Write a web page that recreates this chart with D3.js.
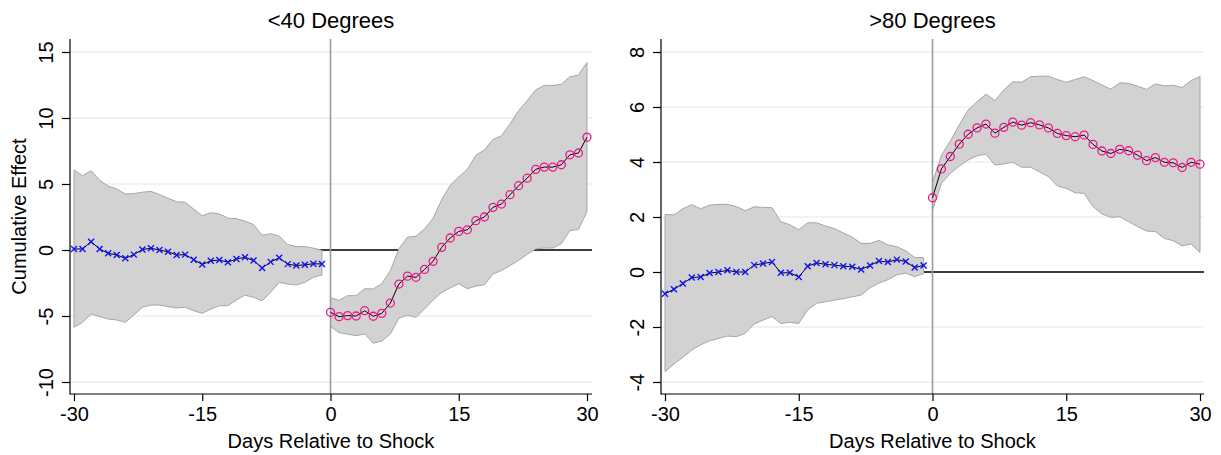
<!DOCTYPE html>
<html>
<head>
<meta charset="utf-8">
<script src="https://cdn.jsdelivr.net/npm/d3@7"></script>
<style>
  body { margin: 0; background: #fff; }
  text { font-family: "Liberation Sans", Arial, sans-serif; fill: #000; }
</style>
</head>
<body>
<div id="chart"></div>
<script>
// days relative to shock
const preDays = [-30, -29, -28, -27, -26, -25, -24, -23, -22, -21, -20, -19, -18, -17, -16,
  -15, -14, -13, -12, -11, -10, -9, -8, -7, -6, -5, -4, -3, -2, -1];
const postDays = [0, 1, 2, 3, 4, 5, 6, 7, 8, 9, 10, 11, 12, 13, 14, 15, 16, 17, 18, 19, 20,
  21, 22, 23, 24, 25, 26, 27, 28, 29, 30];
const xTicks = [-30, -15, 0, 15, 30];

// <40 degrees
const coldYTicks = [-10, -5, 0, 5, 10, 15];
const coldPre = [0.08, 0.08, 0.63, 0.08, -0.25, -0.37, -0.63, -0.35, 0.04, 0.13, 0, -0.13, -0.38, -0.35, -0.73,
  -1.1, -0.82, -0.76, -0.92, -0.68, -0.55, -0.8, -1.36, -0.9, -0.59, -1.07, -1.18, -1.12, -1.04, -1.06];
const coldPreHi = [6.06, 5.63, 6.01, 5.28, 4.84, 4.62, 4.24, 4.27, 4.38, 4.44, 4.2, 3.92, 3.66, 3.63, 3.1,
  2.6, 2.82, 2.73, 2.41, 2.38, 2.18, 1.93, 1.12, 1.24, 1.05, 0.42, 0.25, 0.26, 0.14, -0.03];
const coldPreLo = [-5.86, -5.48, -4.85, -5.05, -5.23, -5.3, -5.48, -4.92, -4.34, -4.17, -4.17, -4.29, -4.39, -4.34, -4.6,
  -4.8, -4.47, -4.22, -4.22, -3.79, -3.41, -3.59, -3.84, -3.21, -2.45, -2.58, -2.65, -2.45, -2.07, -1.89];
const coldPost = [-4.72, -5.05, -4.97, -5.0, -4.6, -5.02, -4.8, -4.02, -2.58, -1.98, -2.07, -1.47, -0.86, 0.2, 0.91,
  1.41, 1.53, 2.22, 2.5, 3.23, 3.48, 4.19, 4.87, 5.44, 6.11, 6.28, 6.28, 6.46, 7.21, 7.35, 8.54];
const coldPostHi = [-3.62, -3.81, -3.46, -3.46, -2.93, -2.95, -2.55, -1.57, 0.1, 0.96, 1.05, 1.59, 2.41, 3.8, 4.9,
  5.54, 6.1, 7.17, 7.58, 8.37, 8.66, 9.55, 10.56, 11.31, 12.13, 12.47, 12.47, 12.55, 13.13, 13.25, 14.21];
const coldPostLo = [-5.8, -6.26, -6.38, -6.49, -6.36, -7.06, -6.9, -6.36, -5.17, -4.94, -5.1, -4.47, -3.79, -3.21, -2.87,
  -2.56, -2.93, -2.74, -2.64, -1.82, -1.55, -1.17, -0.79, -0.33, 0.08, 0.15, 0.15, 0.48, 1.47, 1.56, 2.92];

// >80 degrees
const hotYTicks = [-4, -2, 0, 2, 4, 6, 8];
const hotPre = [-0.79, -0.63, -0.42, -0.2, -0.18, -0.04, 0, 0.06, 0, 0, 0.25, 0.31, 0.36, -0.03, -0.03,
  -0.18, 0.21, 0.33, 0.28, 0.25, 0.21, 0.19, 0.09, 0.24, 0.4, 0.36, 0.45, 0.38, 0.16, 0.24];
const hotPreHi = [2.09, 2.08, 2.3, 2.45, 2.3, 2.43, 2.46, 2.46, 2.38, 2.23, 2.37, 2.35, 2.34, 1.83, 1.72,
  1.54, 1.79, 1.79, 1.67, 1.58, 1.42, 1.27, 1.04, 1.04, 1.15, 0.99, 0.92, 0.77, 0.53, 0.52];
const hotPreLo = [-3.62, -3.35, -3.1, -2.84, -2.65, -2.5, -2.42, -2.33, -2.35, -2.23, -1.89, -1.75, -1.62, -1.87, -1.83,
  -1.87, -1.38, -1.14, -1.08, -1.02, -0.97, -0.9, -0.84, -0.57, -0.4, -0.28, -0.1, -0.04, -0.17, -0.05];
const hotPost = [2.7, 3.75, 4.2, 4.65, 5.01, 5.24, 5.38, 5.05, 5.26, 5.45, 5.34, 5.43, 5.35, 5.24, 5.04,
  4.96, 4.92, 4.98, 4.64, 4.4, 4.31, 4.46, 4.41, 4.25, 4.05, 4.16, 3.99, 3.97, 3.8, 3.99, 3.92];
const hotPostHi = [3.25, 4.25, 4.76, 5.35, 5.89, 6.19, 6.47, 6.23, 6.62, 6.92, 6.9, 7.1, 7.12, 7.12, 7.0,
  6.9, 7.0, 7.1, 6.96, 6.8, 6.65, 6.88, 6.86, 6.76, 6.64, 6.84, 6.77, 6.79, 6.71, 6.96, 7.11];
const hotPostLo = [2.25, 3.22, 3.59, 3.85, 4.07, 4.23, 4.28, 3.89, 3.93, 3.99, 3.81, 3.81, 3.64, 3.47, 3.13,
  3.04, 2.88, 2.86, 2.38, 2.11, 1.99, 2.01, 1.83, 1.65, 1.49, 1.47, 1.22, 1.14, 0.95, 1.02, 0.71];

// style configs
const width = 1221;
const height = 455;
const plotTop = 39;
const plotBottom = 394;
const colors = { band: '#d2d2d2', bandEdge: '#a6a6a6', grid: '#e9f1f2', vline: '#9c9c9c', pre: '#1010ff', post: '#f0148c' };

const svg = d3.select('#chart').append('svg')
  .attr('width', width)
  .attr('height', height)
  .style('display', 'block');

svg.append('rect').attr('width', width).attr('height', height).attr('fill', '#fff');

const zip = (days, vals, hi, lo) => days.map((d, i) => ({ day: d, v: vals[i], hi: hi[i], lo: lo[i] }));

const drawPanel = p => {
  const g = svg.append('g');
  const x = d3.scaleLinear().domain([-30, 30]).range(p.xRange);
  const y = d3.scaleLinear().domain(p.yDomain).range([382, 52]);

  // gridlines
  g.append('g').selectAll('line')
    .data(p.yTicks)
    .enter().append('line')
    .attr('x1', p.axisX + 1).attr('x2', p.right)
    .attr('y1', d => y(d)).attr('y2', d => y(d))
    .attr('stroke', colors.grid).attr('stroke-width', 1.5);

  // zero line
  g.append('line')
    .attr('x1', x(-30)).attr('x2', p.right)
    .attr('y1', y(0)).attr('y2', y(0))
    .attr('stroke', '#000').attr('stroke-width', 1.6);

  const pre = zip(preDays, p.pre, p.preHi, p.preLo);
  const post = zip(postDays, p.post, p.postHi, p.postLo);

  const area = d3.area().x(d => x(d.day)).y0(d => y(d.lo)).y1(d => y(d.hi));
  [pre, post].forEach(s => {
    g.append('path')
      .datum(s)
      .attr('d', area)
      .attr('fill', colors.band)
      .attr('stroke', colors.bandEdge)
      .attr('stroke-width', 1);
  });

  // shock line
  g.append('line')
    .attr('x1', x(0)).attr('x2', x(0))
    .attr('y1', plotTop).attr('y2', plotBottom)
    .attr('stroke', colors.vline).attr('stroke-width', 1.6);

  const line = d3.line().x(d => x(d.day)).y(d => y(d.v));
  [pre, post].forEach(s => {
    g.append('path')
      .datum(s)
      .attr('d', line)
      .attr('fill', 'none')
      .attr('stroke', '#000')
      .attr('stroke-width', 1);
  });

  // pre markers (x)
  const s = 3;
  g.append('g').selectAll('path')
    .data(pre)
    .enter().append('path')
    .attr('d', d => {
      const cx = x(d.day), cy = y(d.v);
      return `M${cx - s},${cy - s}L${cx + s},${cy + s}M${cx - s},${cy + s}L${cx + s},${cy - s}`;
    })
    .attr('stroke', colors.pre)
    .attr('stroke-width', 1.4);

  // post markers (hollow circles)
  g.append('g').selectAll('circle')
    .data(post)
    .enter().append('circle')
    .attr('cx', d => x(d.day))
    .attr('cy', d => y(d.v))
    .attr('r', 4)
    .attr('fill', 'none')
    .attr('stroke', colors.post)
    .attr('stroke-width', 1.3);

  // axes
  g.append('line')
    .attr('x1', p.axisX).attr('x2', p.axisX)
    .attr('y1', plotTop).attr('y2', plotBottom + 0.5)
    .attr('stroke', '#000').attr('stroke-width', 1.2);
  g.append('line')
    .attr('x1', p.axisX).attr('x2', p.right)
    .attr('y1', plotBottom).attr('y2', plotBottom)
    .attr('stroke', '#000').attr('stroke-width', 1.2);

  const yAxis = g.append('g')
    .attr('transform', `translate(${p.axisX},0)`)
    .call(d3.axisLeft(y).tickValues(p.yTicks).tickSize(8).tickSizeOuter(0));
  yAxis.select('.domain').remove();
  yAxis.selectAll('line').attr('stroke', '#000').attr('stroke-width', 1.2);
  yAxis.selectAll('text')
    .attr('x', null).attr('dy', null)
    .attr('transform', 'translate(-17,0) rotate(-90)')
    .attr('text-anchor', 'middle')
    .style('font-size', '20px')
    .style('font-family', '"Liberation Sans", Arial, sans-serif')
    .text(d => d < 0 ? '-' + Math.abs(d) : d);

  const xAxis = g.append('g')
    .attr('transform', `translate(0,${plotBottom})`)
    .call(d3.axisBottom(x).tickValues(xTicks).tickSize(7).tickSizeOuter(0));
  xAxis.select('.domain').remove();
  xAxis.selectAll('line').attr('stroke', '#000').attr('stroke-width', 1.2);
  xAxis.selectAll('text')
    .attr('y', 27).attr('dy', null)
    .style('font-size', '20px')
    .style('font-family', '"Liberation Sans", Arial, sans-serif')
    .text(d => d < 0 ? '-' + Math.abs(d) : d);

  const cx = (p.axisX + p.right) / 2;
  g.append('text')
    .attr('x', cx).attr('y', 28)
    .attr('text-anchor', 'middle')
    .style('font-size', '22px')
    .text(p.title);

  g.append('text')
    .attr('x', cx).attr('y', 448)
    .attr('text-anchor', 'middle')
    .style('font-size', '20px')
    .text('Days Relative to Shock');

  if (p.yTitle) {
    g.append('text')
      .attr('transform', `translate(26,${(plotTop + plotBottom) / 2}) rotate(-90)`)
      .attr('text-anchor', 'middle')
      .style('font-size', '20px')
      .text(p.yTitle);
  }
};

drawPanel({
  title: '<40 Degrees', yTitle: 'Cumulative Effect',
  axisX: 70, right: 592, xRange: [74, 587],
  yDomain: [-10, 15], yTicks: coldYTicks,
  pre: coldPre, preHi: coldPreHi, preLo: coldPreLo,
  post: coldPost, postHi: coldPostHi, postLo: coldPostLo
});

drawPanel({
  title: '>80 Degrees',
  axisX: 661, right: 1204, xRange: [665, 1200],
  yDomain: [-4, 8], yTicks: hotYTicks,
  pre: hotPre, preHi: hotPreHi, preLo: hotPreLo,
  post: hotPost, postHi: hotPostHi, postLo: hotPostLo
});
</script>
</body>
</html>
